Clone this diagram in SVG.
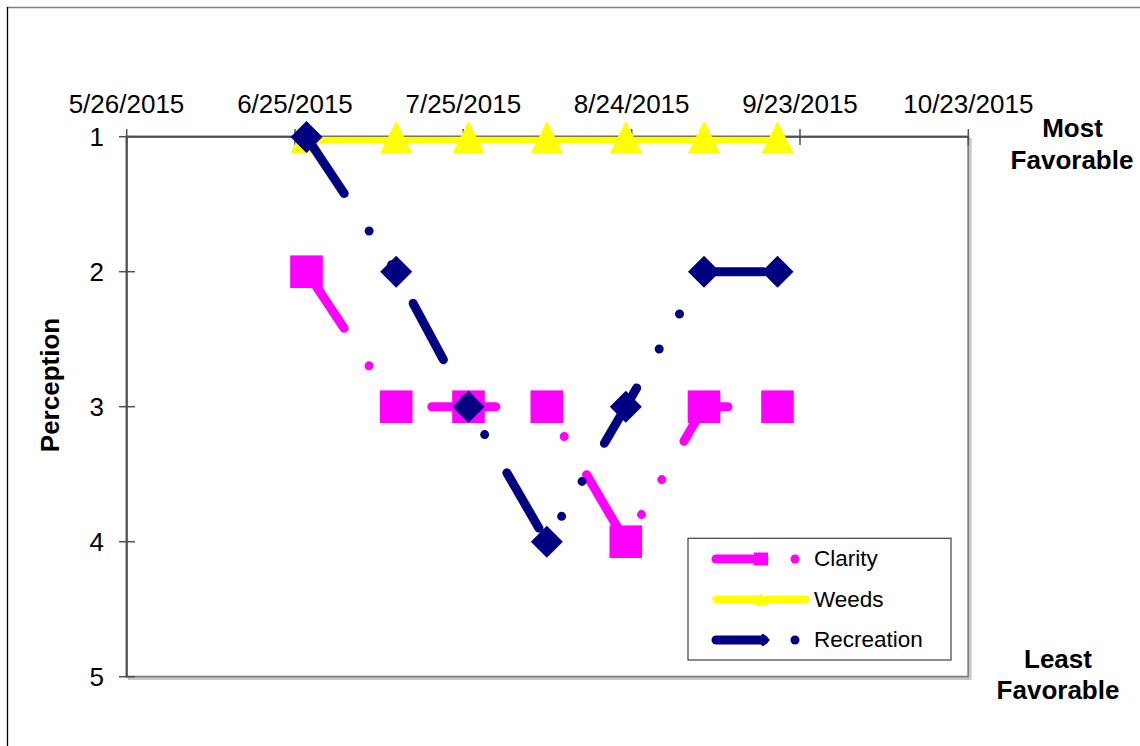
<svg xmlns="http://www.w3.org/2000/svg" width="1140" height="746" viewBox="0 0 1140 746">
<style>
text{font-family:"Liberation Sans",Arial,sans-serif;fill:#000}
.lab{font-size:26px}
.bold{font-size:26px;font-weight:bold}
.leg{font-size:22.5px}
.axis{stroke:#505050;stroke-width:2;fill:none}
.tick{stroke:#505050;stroke-width:1.5}
.ser{fill:none;stroke-width:9;stroke-linecap:round;stroke-linejoin:round}
.dd{stroke-dasharray:64 45 0 40.5 0 44.2;stroke-dashoffset:189.7}
.clar{stroke:#FF00FF}
.rec{stroke:#000080}
</style>
<defs>
<rect id="sq" x="-16.3" y="-16.3" width="32.6" height="32.6" fill="#FF00FF"/>
<polygon id="dia" points="0,-16 16,0 0,16 -16,0" fill="#000080"/>
<polygon id="tri" points="0,-16 16,16 -16,16" fill="#FFFF00"/>
</defs>
<g id="frame">
<line x1="7" y1="7.5" x2="1140" y2="7.5" stroke="#7f7f7f" stroke-width="1.6"/>
<line x1="7.5" y1="7" x2="7.5" y2="746" stroke="#000" stroke-width="1.3"/>
</g>
<g id="plot-area">
<rect x="129" y="139" width="841.6" height="540" fill="none" stroke="#c8c8c8" stroke-width="2"/>
<rect x="126.7" y="136.7" width="841.6" height="540" fill="#fff" stroke="#808080" stroke-width="2"/>
<polyline class="axis" points="126.7,676.7 126.7,136.7 968.3,136.7"/>
<g class="tick">
<line x1="119" y1="136.7" x2="135" y2="136.7"/>
<line x1="119" y1="271.7" x2="135" y2="271.7"/>
<line x1="119" y1="406.7" x2="135" y2="406.7"/>
<line x1="119" y1="541.7" x2="135" y2="541.7"/>
<line x1="119" y1="676.7" x2="135" y2="676.7"/>
<line x1="126.7" y1="129" x2="126.7" y2="145"/>
<line x1="295" y1="129" x2="295" y2="145"/>
<line x1="463.3" y1="129" x2="463.3" y2="145"/>
<line x1="631.7" y1="129" x2="631.7" y2="145"/>
<line x1="800" y1="129" x2="800" y2="145"/>
<line x1="968.3" y1="129" x2="968.3" y2="145"/>
</g>
</g>
<g id="x-labels" class="lab" text-anchor="middle">
<text x="126.5" y="113">5/26/2015</text>
<text x="295" y="113">6/25/2015</text>
<text x="463.3" y="113">7/25/2015</text>
<text x="631.7" y="113">8/24/2015</text>
<text x="800" y="113">9/23/2015</text>
<text x="968.3" y="113">10/23/2015</text>
</g>
<g id="y-labels" class="lab" text-anchor="end">
<text x="104" y="145.7">1</text>
<text x="104" y="280.7">2</text>
<text x="104" y="415.7">3</text>
<text x="104" y="550.7">4</text>
<text x="104" y="685.7">5</text>
</g>
<g id="axis-titles" class="bold" text-anchor="middle">
<text transform="translate(58.5,385) rotate(-90)">Perception</text>
<text x="1072.5" y="137.3">Most</text>
<text x="1072" y="169">Favorable</text>
<text x="1058" y="667.7">Least</text>
<text x="1058" y="699">Favorable</text>
</g>
<g id="connectors">
<g id="clarity-series">
<polyline class="ser clar dd" points="306.5,271.7 396.2,406.7 468.5,406.7 546.8,406.7 625.8,541.7 704,406.7 777.5,406.7"/>
<use href="#sq" x="306.5" y="271.7"/>
<use href="#sq" x="396.2" y="406.7"/>
<use href="#sq" x="468.5" y="406.7"/>
<use href="#sq" x="546.8" y="406.7"/>
<use href="#sq" x="625.8" y="541.7"/>
<use href="#sq" x="704" y="406.7"/>
<use href="#sq" x="777.5" y="406.7"/>
</g>
<g id="weeds-series">
<line x1="306.5" y1="139.8" x2="777.5" y2="139.8" stroke="#FFFF00" stroke-width="6.2"/>
<use href="#tri" x="306.5" y="137"/>
<use href="#tri" x="396.2" y="137"/>
<use href="#tri" x="468.5" y="137"/>
<use href="#tri" x="546.8" y="137"/>
<use href="#tri" x="625.8" y="137"/>
<use href="#tri" x="704" y="137"/>
<use href="#tri" x="777.5" y="137"/>
</g>
<g id="recreation-series">
<polyline class="ser rec dd" points="306.5,137 396.2,271.7 468.5,406.7 546.8,541.7 625.8,406.7 704,271.7 777.5,271.7"/>
<use href="#dia" x="306.5" y="137"/>
<use href="#dia" x="396.2" y="271.7"/>
<use href="#dia" x="468.5" y="406.7"/>
<use href="#dia" x="546.8" y="541.7"/>
<use href="#dia" x="625.8" y="406.7"/>
<use href="#dia" x="704" y="271.7"/>
<use href="#dia" x="777.5" y="271.7"/>
</g>
</g>
<g id="legend">
<rect x="688" y="538.3" width="263" height="121.7" fill="#fff" stroke="#404040" stroke-width="1.2"/>
<g id="legend-clarity">
<line class="ser clar" x1="716" y1="559" x2="764" y2="559"/>
<rect x="754" y="552.5" width="14" height="13" fill="#FF00FF"/>
<circle cx="795" cy="559" r="4.5" fill="#FF00FF"/>
<text class="leg" x="814" y="566">Clarity</text>
</g>
<g id="legend-weeds">
<line x1="716" y1="599.3" x2="806" y2="599.3" stroke="#FFFF00" stroke-width="7.5" stroke-linecap="round"/>
<polygon points="761,593 768,605.5 754,605.5" fill="#FFFF00"/>
<text class="leg" x="814" y="606.6">Weeds</text>
</g>
<g id="legend-recreation">
<line class="ser rec" x1="716" y1="640" x2="764" y2="640"/>
<polygon points="763,633.5 770,640 763,646.5 756,640" fill="#000080"/>
<circle cx="795" cy="640" r="4.5" fill="#000080"/>
<text class="leg" x="814" y="647">Recreation</text>
</g>
</g>
</svg>
